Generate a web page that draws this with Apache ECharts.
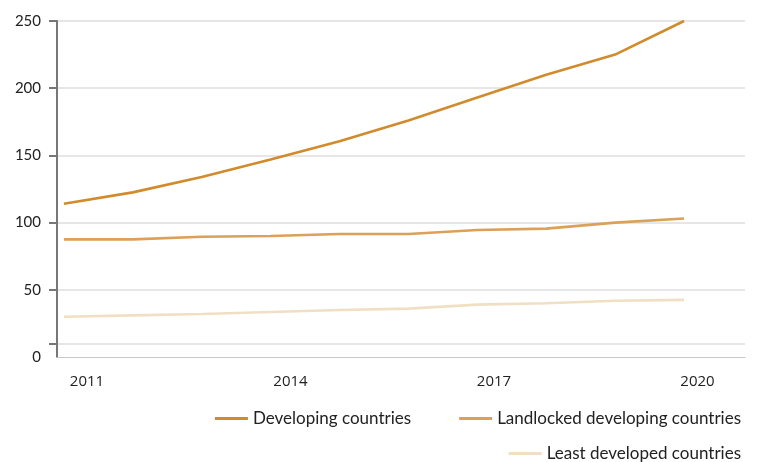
<!DOCTYPE html>
<html>
<head>
<meta charset="utf-8">
<script src="https://cdn.jsdelivr.net/npm/echarts@6/dist/echarts.min.js"></script>
<style>html,body{margin:0;padding:0;background:#fff;}#c{width:760px;height:462px;}</style>
</head>
<body>
<div id="c"></div>
<script>
var years = [2011, 2012, 2013, 2014, 2015, 2016, 2017, 2018, 2019, 2020];
var developing = [114, 122.5, 134, 147, 160.5, 176, 193, 210, 225, 250];
var landlocked = [87.5, 87.5, 89.5, 90, 91.5, 91.5, 94.5, 95.5, 100, 103];
var leastDeveloped = [30, 31, 32, 33.5, 35, 36, 39, 40, 41.8, 42.5];
var xTickLabels = [2011, 2014, 2017, 2020];
var yTickLabels = [0, 50, 100, 150, 200, 250];
var seriesNames = ['Developing countries', 'Landlocked developing countries', 'Least developed countries'];
var colors = ['#d18b2c', '#dba059', '#f1dfc4'];

function pairs(vals) { return years.map(function (y, i) { return [y, vals[i]]; }); }

var chart = echarts.init(document.getElementById('c'), null, { renderer: 'canvas' });
var legendText = { color: '#222', fontSize: 17, fontFamily: 'Lato' };
chart.setOption({
  animation: false,
  backgroundColor: '#fff',
  grid: { left: 57, right: 15, top: 21, bottom: 105, containLabel: false },
  legend: [
    { data: [seriesNames[0], seriesNames[1]], right: 14, top: 405, icon: 'rect', itemWidth: 33, itemHeight: 3,
      itemGap: 48, textStyle: legendText, selectedMode: false },
    { data: [seriesNames[2]], right: 14, top: 440, icon: 'rect', itemWidth: 33, itemHeight: 3,
      textStyle: legendText, selectedMode: false }
  ],
  xAxis: [
    { type: 'value', min: 2010.9, max: 2020.885, position: 'bottom',
      axisLine: { show: true, onZero: false, lineStyle: { color: '#c8c8c8', width: 1 } },
      axisTick: { show: false }, axisLabel: { show: false }, splitLine: { show: false } },
    { type: 'value', min: 2010.558, max: 2020.70, position: 'bottom',
      axisLine: { show: false }, axisTick: { show: false }, splitLine: { show: false },
      axisLabel: { customValues: xTickLabels, margin: 17, color: '#222', fontSize: 15, fontFamily: 'Open Sans',
        formatter: function (v) { return String(v); } } }
  ],
  yAxis: {
    type: 'value', min: 0, max: 250, interval: 50,
    axisLine: { show: true, lineStyle: { color: '#777', width: 2 } },
    axisTick: { show: true, length: 8, customValues: [10, 50, 100, 150, 200, 250], lineStyle: { color: '#777', width: 2 } },
    axisLabel: { customValues: yTickLabels, margin: 16, color: '#222', fontSize: 15, fontFamily: 'Lato' },
    splitLine: { show: true, lineStyle: { color: '#dedede', width: 1.5 } }
  },
  series: [
    { name: seriesNames[0], type: 'line', data: pairs(developing), showSymbol: false, symbol: 'none',
      lineStyle: { color: colors[0], width: 2.6 }, itemStyle: { color: colors[0] }, z: 5 },
    { name: seriesNames[1], type: 'line', data: pairs(landlocked), showSymbol: false, symbol: 'none',
      lineStyle: { color: colors[1], width: 2.6 }, itemStyle: { color: colors[1] }, z: 4 },
    { name: seriesNames[2], type: 'line', data: pairs(leastDeveloped), showSymbol: false, symbol: 'none',
      lineStyle: { color: colors[2], width: 2.6 }, itemStyle: { color: colors[2] }, z: 3 }
  ]
});
</script>
</body>
</html>
